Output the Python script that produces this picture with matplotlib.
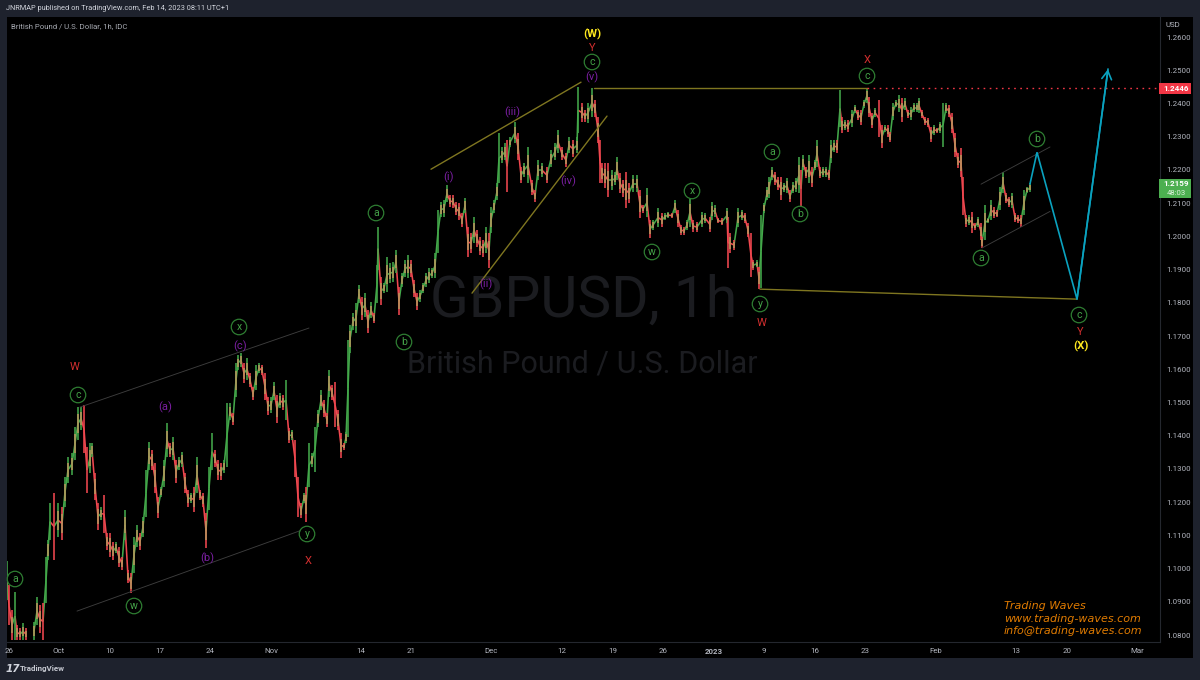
import numpy as np
import matplotlib
matplotlib.use("Agg")
import matplotlib.pyplot as plt
from matplotlib.collections import LineCollection
from matplotlib.patches import Rectangle

# ---- candle data: time position on the chart's (trading time) axis, high and low in pips ----
t1 = [7,9,12,15,17,20,23,26,34,37,40,43,46,48,50,54,58,62,65,68,72,75,78,81,84,87,90,92,95,98,101,104,107,110,113,116,119,122,125,128,131,134,137,140,143]
h1 = [11022,10950,10875,10929,10830,10821,10836,10821,10839,10914,10890,10896,11034,11086,11197,11227,11197,11185,11275,11336,11348,11426,11486,11486,11492,11366,11378,11378,11288,11197,11185,11221,11107,11107,11080,11080,11065,11035,11176,10996,10987,11095,11131,11107,11155]
l1 = [10905,10830,10785,10785,10785,10785,10785,10785,10785,10830,10806,10785,10896,11026,11086,11026,11095,11086,11185,11258,11282,11327,11387,11417,11348,11227,11288,11336,11206,11116,11146,11107,11056,11035,11026,11047,11005,10996,11086,10956,10926,10987,11065,11056,11095]

t2 = [146,149,152,155,158,161,164,167,170,173,176,179,182,185,188,191,194,197,200,203,206,209,212,215,218,221,224,227,230,233,236,238,241,244,247,250,253,256,259,262,265,268,271,274,277,280,283,286]
h2 = [11296,11381,11357,11318,11215,11245,11327,11438,11378,11396,11327,11336,11351,11288,11236,11227,11245,11336,11236,11227,11167,11306,11408,11357,11327,11318,11327,11498,11498,11468,11618,11642,11648,11618,11633,11588,11546,11612,11618,11612,11588,11516,11516,11561,11522,11528,11522,11567]
l2 = [11155,11296,11296,11227,11152,11215,11245,11336,11336,11327,11258,11296,11306,11227,11185,11197,11170,11227,11206,11185,11062,11176,11296,11306,11267,11267,11288,11306,11447,11432,11516,11597,11606,11558,11567,11546,11507,11537,11588,11582,11507,11462,11468,11507,11438,11483,11477,11447]

t3 = [289,292,295,298,301,304,306,309,312,315,318,321,324,327,329,332,335,338,341,344,346,348,350,353,356,359,362,365,368,371,374,377,378,381,384,387,390,393,396,399,402,405,408,411,414,417,420,423,426,429,432,435]
h3 = [11423,11417,11387,11276,11197,11227,11245,11378,11348,11426,11477,11537,11507,11468,11597,11552,11561,11477,11408,11378,11411,11688,11733,11769,11799,11853,11817,11829,11778,11802,11769,11913,12028,11877,11859,11937,11919,11922,11958,11847,11889,11928,11943,11928,11868,11829,11838,11859,11889,11904,11904,11949]
l3 = [11378,11387,11276,11155,11152,11197,11140,11245,11306,11291,11426,11477,11456,11426,11516,11507,11426,11417,11333,11357,11378,11396,11649,11718,11709,11799,11748,11757,11709,11754,11739,11799,11898,11793,11829,11832,11859,11862,11889,11763,11847,11877,11874,11877,11817,11778,11802,11829,11847,11859,11874,11874]

t4 = [438,441,444,447,450,453,456,459,462,465,468,471,474,477,480,483,486,489,491,494,497,499,502,505,507,510,515,518,521,524,528,532,535,538,542,547,551,555,558,562,566,569,573,577,578,582,585,588,592,595,598]
h4 = [12079,12103,12109,12154,12124,12124,12103,12100,12070,12115,12028,12010,12058,12019,11998,11989,12028,12010,12088,12109,12160,12310,12268,12280,12289,12298,12343,12310,12208,12220,12268,12169,12139,12229,12220,12208,12259,12280,12319,12268,12250,12298,12289,12298,12449,12401,12380,12401,12446,12410,12359]
l4 = [11949,12058,12058,12103,12088,12085,12064,12049,12028,12070,11938,11949,11980,11968,11944,11938,11949,11904,12010,12070,12109,12160,12220,12229,12133,12268,12280,12229,12160,12178,12160,12124,12103,12169,12178,12160,12208,12229,12250,12229,12208,12250,12238,12250,12310,12344,12344,12341,12359,12359,12281]

t5 = [600,602,605,608,612,615,617,620,623,626,629,633,637,640,643,647,650,653,658,662,665,668,672,675,678,681,684,687,690,693,697,702,705,710,712,715,718,722,727,728,730,734,738,742,745,748,751,753,757,759,761]
h5 = [12290,12220,12220,12220,12199,12193,12238,12190,12169,12193,12160,12184,12184,12139,12094,12145,12049,12049,12085,12070,12070,12073,12070,12109,12079,12034,12028,12049,12118,12049,12043,12073,12070,12058,12103,12094,12055,12055,12085,12058,12010,11989,12085,12079,12070,12040,12010,11928,11928,11907,12064]
l5 = [12160,12160,12145,12118,12139,12154,12169,12130,12118,12085,12100,12133,12133,12055,12070,12058,11995,12019,12028,12028,12049,12055,12055,12070,12028,12004,12004,12019,12028,12013,12013,12028,12040,12013,12049,12058,12040,12034,12040,11904,11949,11959,12028,12049,12040,11998,11877,11898,11907,11841,11844]

t6 = [764,767,769,772,775,778,781,784,787,790,793,796,799,801,803,806,809,812,815,817,820,823,826,829,831,834,837,840,842,845,848,852,855,858,861,864,867,869,872,875,879,882,885,888,890]
h6 = [12100,12148,12178,12208,12193,12178,12178,12160,12175,12139,12163,12175,12238,12199,12244,12208,12244,12208,12229,12289,12208,12208,12208,12199,12289,12289,12289,12440,12359,12350,12350,12380,12395,12380,12380,12410,12446,12419,12371,12386,12410,12335,12335,12335,12314]
l6 = [12070,12109,12115,12169,12154,12139,12109,12133,12130,12103,12130,12133,12130,12088,12199,12175,12160,12148,12199,12208,12175,12178,12178,12169,12220,12253,12250,12329,12310,12320,12314,12329,12371,12350,12335,12386,12401,12359,12326,12359,12299,12266,12314,12299,12283]

t7 = [893,896,899,902,905,908,911,914,917,919,922,925,928,931,934,937,940,943,946,949,952,955,958,961,963,966,969,972,975,978,981,982,985,988,991,994,997,1000,1003,1006,1009,1012,1015,1018,1021,1024,1027,1030]
h7 = [12401,12410,12425,12416,12416,12380,12389,12401,12401,12416,12380,12359,12356,12329,12335,12326,12344,12401,12401,12395,12371,12311,12250,12265,12178,12064,12064,12073,12040,12058,12040,11998,12094,12055,12109,12088,12079,12148,12193,12130,12118,12130,12070,12064,12064,12139,12148,12160]
l7 = [12350,12389,12374,12344,12380,12356,12350,12374,12374,12371,12356,12335,12329,12284,12305,12311,12311,12268,12371,12359,12311,12238,12205,12178,12064,12028,12034,12010,12019,12028,11989,11965,11989,12040,12049,12055,12058,12079,12130,12100,12088,12085,12043,12040,12028,12064,12130,12133]

# ---- tick labels ----
price_ticks = [1.26,1.25,1.24,1.23,1.22,1.21,1.20,1.19,1.18,1.17,1.16,1.15,1.14,1.13,1.12,1.11,1.10,1.09,1.08]
date_pos = [9,59,110,160,210,271,361,411,491,562,613,663,714,764,815,865,936,1016,1067,1137]
date_lab = ["26","Oct","10","17","24","Nov","14","21","Dec","12","19","26","2023","9","16","23","Feb","13","20","Mar"]

# ---- drawn lines (time, pips) ----
wedge_upper = ([431,581],[12202,12464])
wedge_lower = ([472,607],[11829,12362])
top_line = ([594,867],[12446,12446])
low_line = ([760,1077],[11841,11811])
chan_a_low = ([77,302],[10872,11116])
chan_a_up = ([80,309],[11486,11724])
chan_b_up = ([981,1050],[12157,12269])
chan_b_low = ([982,1050],[11965,12075])
proj_t = [1030,1037,1077,1108]
proj_p = [12158,12253,11811,12503]
level_t = [867,1160]
level_p = 1.2446
last_price = 1.2159

# ---- labels (figure pixels) ----
circled = [("a",15,579),("c",78,395),("x",239,327),("w",134,606),("y",307,534),("a",376,213),("b",404,342),
           ("c",592,62),("w",652,252),("x",692,191),("y",760,304),("a",772,152),("b",800,214),("c",867,76),
           ("a",981,258),("b",1037,139),("c",1079,315)]
purple = [("(a)",165,407),("(b)",207,558),("(c)",240,346),("(i)",449,177),("(ii)",486,284),("(iii)",512,112),("(iv)",568,181),("(v)",592,77)]
red = [("W",75,367),("X",308,561),("Y",592,48),("W",762,323),("X",867,60),("Y",1080,332)]
yellow = [("(W)",592,34),("(X)",1081,346)]

FR="#1e222d"; GREEN="#43a84a"; RED="#f0474f"; TAN="#b8965c"
W,H=1200,680
plt.rcParams['font.family']=['Roboto','DejaVu Sans']
fig=plt.figure(figsize=(12,6.8),dpi=100,facecolor=FR)
fig.patches.append(Rectangle((7/W,1-658/H),(1193-7)/W,(658-17)/H,transform=fig.transFigure,fc="#000000",ec="none",zorder=-5))
ax=fig.add_axes([7/W,1-642/H,(1160-7)/W,(642-17)/H],facecolor="none")
ax.set_xlim(7,1160)
ax.set_ylim(1.0779,1.26602)

t=np.concatenate([t1,t2,t3,t4,t5,t6,t7]).astype(float)
hi=np.concatenate([h1,h2,h3,h4,h5,h6,h7])/1e4
lo=np.concatenate([l1,l2,l3,l4,l5,l6,l7])/1e4
mid=(hi+lo)/2
up=np.r_[True,mid[1:]>=mid[:-1]]
cols=[GREEN if u else RED for u in up]
# join neighbouring bars so the trace reads as continuous price action
keep=np.diff(t)<6
joins=[[(t[i],mid[i]),(t[i+1],mid[i+1])] for i in np.where(keep)[0]]
jcols=[GREEN if up[i+1] else RED for i in np.where(keep)[0]]
ax.add_collection(LineCollection(joins,colors=jcols,linewidths=1.15,zorder=3))
ax.add_collection(LineCollection([[(a,b),(a,c)] for a,b,c in zip(t,lo,hi)],colors=cols,linewidths=1.15,zorder=3))
rng=hi-lo
mask=rng<0.0110
segs=[[(a,b+0.22*r),(a,c-0.22*r)] for a,b,c,r in zip(t[mask],lo[mask],hi[mask],rng[mask])]
ax.add_collection(LineCollection(segs,colors=TAN,linewidths=1.15,zorder=4))

def line(p,**k):
    ax.plot(p[0],np.array(p[1])/1e4,solid_capstyle='round',**k)
OL="#7f7620"
for p in (wedge_upper,wedge_lower,top_line,low_line):
    line(p,color=OL,lw=1.0,zorder=5)
for p in (chan_a_low,chan_a_up,chan_b_up,chan_b_low):
    line(p,color="#3d3d3d",lw=0.65,zorder=5)
ax.plot(level_t,[level_p,level_p],color="#f23645",lw=1.0,ls=(0,(1.2,3.2)),zorder=5)
BL="#0aa2bf"
pp=np.array(proj_p)/1e4
ax.plot(proj_t,pp,color=BL,lw=1.2,zorder=6,solid_joinstyle='miter')
ax.annotate("",xy=(proj_t[-1],pp[-1]),xytext=(proj_t[-2],pp[-2]),
            arrowprops=dict(arrowstyle="->,head_length=0.6,head_width=0.35",color=BL,lw=1.2,shrinkA=0,shrinkB=0),zorder=6)

# axes & ticks
for s in ("top","left"): ax.spines[s].set_visible(False)
ax.spines["right"].set_color("#24272e"); ax.spines["bottom"].set_color("#24272e")
ax.spines["right"].set_linewidth(0.8); ax.spines["bottom"].set_linewidth(0.8)
ax.yaxis.tick_right()
ax.set_yticks(price_ticks); ax.set_yticklabels([f"{v:.4f}" for v in price_ticks])
ax.set_xticks(date_pos); ax.set_xticklabels(date_lab)
ax.tick_params(axis="both",length=0,colors="#b2b5be",labelsize=5.7)
ax.tick_params(axis="y",pad=4.4); ax.tick_params(axis="x",pad=4)
for tl in ax.get_xticklabels():
    if tl.get_text()=="2023": tl.set_fontweight("bold")

def ft(x,y,s,**k):
    k.setdefault("ha","center"); k.setdefault("va","center")
    return fig.text(x/W,1-y/H,s,**k)

# watermark
ft(584,301,"GBPUSD, 1h",fontsize=41,color="#1b1c20",zorder=-1,family="Roboto")
ft(582,364,"British Pound / U.S. Dollar",fontsize=22,color="#1b1c20",zorder=-1,family="Roboto")

# headers
ft(6,8,"JNRMAP published on TradingView.com, Feb 14, 2023 08:11 UTC+1",ha="left",fontsize=5.35,color="#d1d4dc")
ft(11,26,"British Pound / U.S. Dollar, 1h, IDC",ha="left",fontsize=5.6,color="#a8abb3")
ft(1166,25,"USD",ha="left",fontsize=5.7,color="#b2b5be")

# wave labels
for s,x,y in circled:
    ft(x,y,s,fontsize=7.6,color="#43a047",bbox=dict(boxstyle="circle,pad=0.26",fc="#000000",ec="#2e7d32",lw=0.9))
for s,x,y in purple:
    ft(x,y,s,fontsize=8,color="#7b1fa2")
for s,x,y in red:
    ft(x,y,s,fontsize=8,color="#d32f2f")
for s,x,y in yellow:
    ft(x,y,s,fontsize=8.2,color="#ffe91f",fontweight="bold")

# price flags
fig.patches.append(Rectangle((1159/W,1-94/H),32/W,11/H,transform=fig.transFigure,fc="#f23645",ec="none",zorder=8))
ft(1176,88.7,f"{level_p:.4f}",fontsize=5.8,color="white",fontweight="bold",zorder=9)
fig.patches.append(Rectangle((1159/W,1-198/H),32/W,19/H,transform=fig.transFigure,fc="#4caf50",ec="none",zorder=8))
ft(1176,184,f"{last_price:.4f}",fontsize=5.8,color="white",fontweight="bold",zorder=9)
ft(1176,193,"48:03",fontsize=5.6,color="#dcefdc",zorder=9)

# signature
ORG="#e07b00"
for s,y in (("Trading Waves",606),("www.trading-waves.com",619),("info@trading-waves.com",631)):
    ft(1004,y,s,ha="left",fontsize=8.05,color=ORG,style="italic",family="DejaVu Sans")

# footer
ft(6,669,"17",ha="left",fontsize=7.6,color="#d1d4dc",fontweight="black",style="italic",family="DejaVu Sans")
ft(20,669,"TradingView",ha="left",fontsize=5.8,color="#c4c7cf",fontweight="bold")

fig.savefig("out.png",dpi=100,facecolor=FR)
